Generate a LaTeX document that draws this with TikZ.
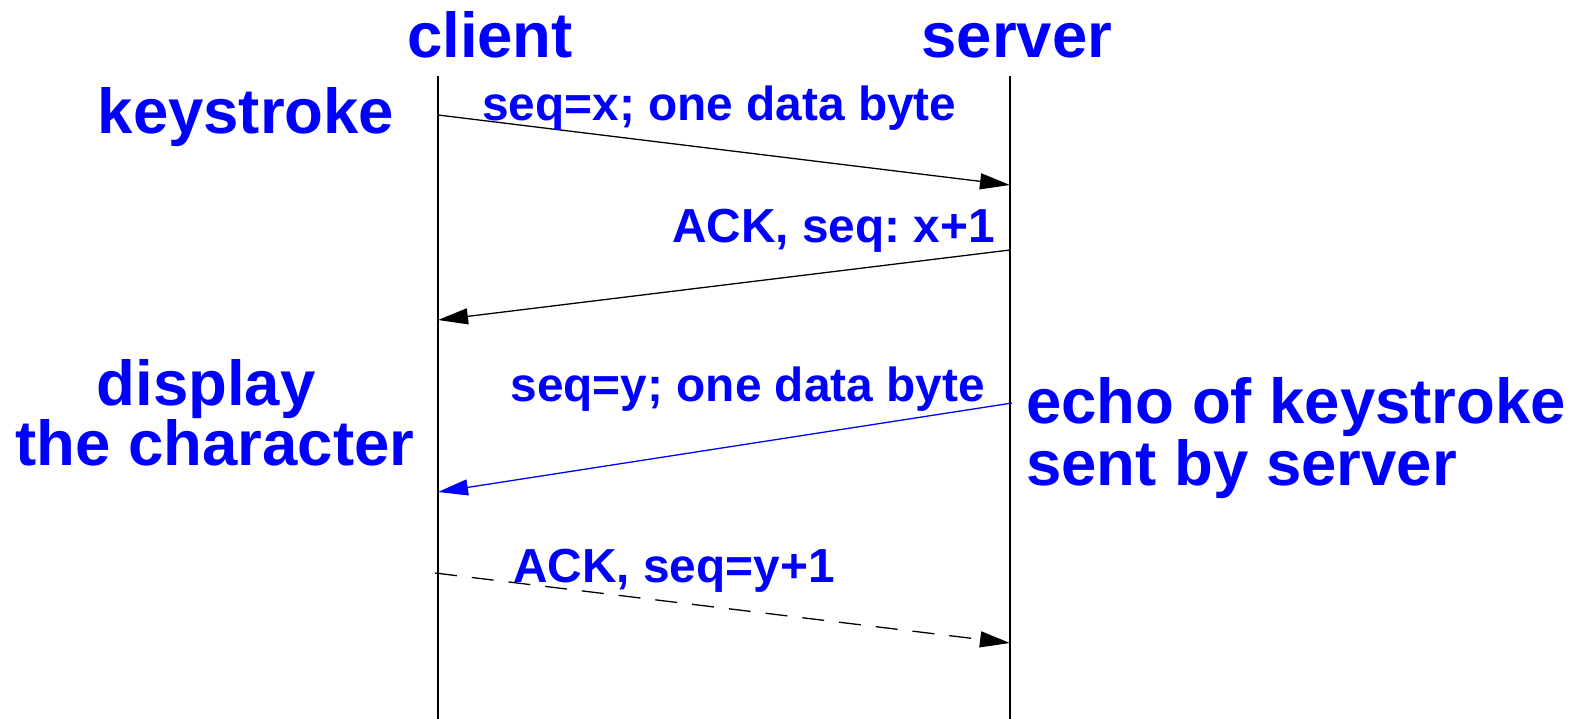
\documentclass[tikz,border=0pt]{standalone}
\usepackage{fontspec}
\setmainfont{Liberation Sans}
\usetikzlibrary{arrows.meta}
\definecolor{lblue}{RGB}{0,0,255}
\frenchspacing
\tikzset{
  big/.style={text=lblue, inner sep=0pt, font=\bfseries\fontsize{63.5}{62}\selectfont},
  small/.style={text=lblue, inner sep=0pt, font=\bfseries\fontsize{47.8}{48}\selectfont},
  life/.style={line width=1.3pt, black},
  msg/.style={line width=1.3pt, -{Triangle[length=30pt,width=16pt]}},
}
\begin{document}
\begin{tikzpicture}[x=1pt,y=-1pt]
\useasboundingbox (0,0) rectangle (1576,719);
% lifelines
\coordinate (ctop) at (438,76);
\coordinate (cbot) at (438,719);
\coordinate (stop) at (1010,76);
\coordinate (sbot) at (1010,719);
\draw[life] (ctop) -- (cbot);
\draw[life] (stop) -- (sbot);
% headers
\node[big, anchor=base] (client) at (490,58) {client};
\node[big, anchor=base] (server) at (1017,58) {server};
% side labels
\node[big, anchor=base] (key) at (246,134) {keystroke};
\node[big, anchor=base] (disp) at (206,405) {display};
\node[big, anchor=base] (dispb) at (215,465) {the character};
\node[big, anchor=base west, align=left] (echo) at (1026,485) {echo of keystroke\\[0pt]sent by server};
% message endpoints
\coordinate (c1) at (438,115);
\coordinate (s1) at (1010,185);
\coordinate (s2) at (1010,250);
\coordinate (c2) at (438,320);
\coordinate (s3) at (1012,403);
\coordinate (c3) at (438,492);
\coordinate (c4) at (435,573);
\coordinate (s4) at (1010,643);
\draw[msg] (c1) -- (s1);
\draw[msg] (s2) -- (c2);
\draw[msg, lblue, -{Triangle[length=30pt,width=16pt,fill=lblue]}] (s3) -- (c3);
\draw[msg, dash pattern=on 22pt off 15pt] (c4) -- (s4);
% message labels
\node[small, anchor=base west] (m1) at (482,121) {seq=x; one data byte};
\node[small, anchor=base east] (m2) at (995,243) {ACK, seq: x+1};
\node[small, anchor=base east] (m3) at (985,401) {seq=y; one data byte};
\node[small, anchor=base west] (m4) at (513,582) {ACK, seq=y+1};
\end{tikzpicture}
\end{document}
